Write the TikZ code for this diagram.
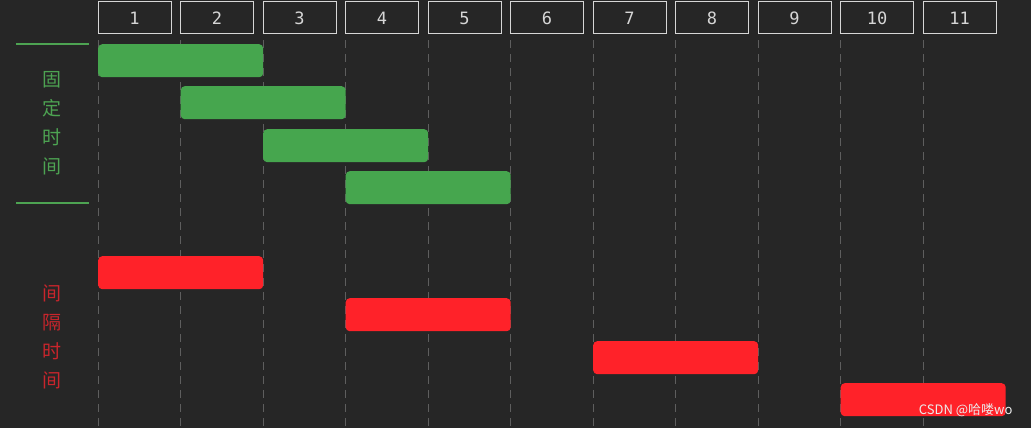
\documentclass[tikz,border=0pt]{standalone}
\usepackage{fontspec}
\setmainfont{DejaVu Sans Mono}
\newfontfamily\cjk{Noto Sans CJK SC}
\usepackage{tikz}
\usetikzlibrary{positioning}

\definecolor{bgDark}{HTML}{262626}
\definecolor{slotLine}{HTML}{D6D6D6}
\definecolor{gridGray}{HTML}{5E5E5E}
\definecolor{barGreen}{HTML}{46A64E}
\definecolor{barRed}{HTML}{FF2229}
\definecolor{txtGreen}{HTML}{4DA352}
\definecolor{txtRed}{HTML}{C9252C}

\begin{document}
\begin{tikzpicture}[x=1pt, y=-1pt,
    slot/.style={draw=slotLine, line width=1pt, minimum width=73pt,
        minimum height=32pt, inner sep=0pt, text=slotLine,
        font=\fontsize{17}{17}\selectfont},
    gridline/.style={draw=gridGray, line width=1pt, dash pattern=on 8pt off 6pt},
    fixbar/.style={fill=barGreen, rounded corners=4pt, minimum width=165pt,
        minimum height=33pt, inner sep=0pt, anchor=north west},
    gapbar/.style={fixbar, fill=barRed},
    sepline/.style={draw=txtGreen, line width=2pt},
    sidelabel/.style={font=\cjk\fontsize{19}{29}\selectfont, align=center}]
    \fill[bgDark] (0,0) rectangle (1031,428);
    \useasboundingbox (0,0) rectangle (1031,428);
    % time slots and grid
    \foreach \i in {0,...,10}
        \draw[gridline] (98+82.5*\i,40) -- (98+82.5*\i,428);
    \foreach \i in {1,...,11}
        \node[slot] (t\i) at (52+82.5*\i,18) {\i};
    % fixed time
    \foreach \s/\y [count=\k] in {0/44, 1/86, 2/129, 3/171}
        \node[fixbar] (g\k) at (98+82.5*\s,\y) {};
    \coordinate (sa) at (16,44);
    \coordinate (sb) at (89,44);
    \coordinate (sc) at (16,203);
    \coordinate (sd) at (89,203);
    \draw[sepline] (sa) -- (sb);
    \draw[sepline] (sc) -- (sd);
    \node[sidelabel, text=txtGreen] (fixlabel) at (52,123) {固\\定\\时\\间};
    % interval time
    \foreach \s/\y [count=\k] in {0/256, 3/298, 6/341, 9/383}
        \node[gapbar] (r\k) at (98+82.5*\s,\y) {};
    \node[sidelabel, text=txtRed] (gaplabel) at (52,337) {间\\隔\\时\\间};
    \node[font=\cjk\fontsize{13}{13}\selectfont, text=white!85!gray, anchor=east] (mark) at (1016,410) {CSDN @哈喽wo};
\end{tikzpicture}
\end{document}
